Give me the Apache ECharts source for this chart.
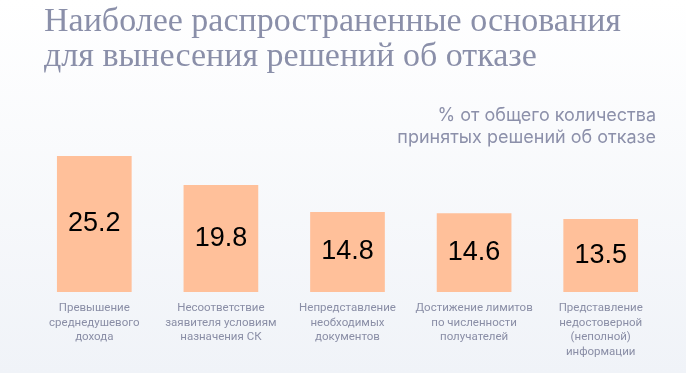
<!DOCTYPE html>
<html>
<head>
<meta charset="utf-8">
<script src="https://cdn.jsdelivr.net/npm/echarts@6/dist/echarts.min.js"></script>
<style>
html,body{margin:0;padding:0;}
#c{width:686px;height:373px;background:linear-gradient(to bottom,#ffffff 0%,#f0f3f8 100%);}
</style>
</head>
<body>
<div id="c"></div>
<script>
const titleText = 'Наиболее распространенные основания\nдля вынесения решений об отказе';
const subtitleLines = ['% от общего количества', 'принятых решений об отказе'];
const categories = [
  'Превышение\nсреднедушевого\nдохода',
  'Несоответствие\nзаявителя условиям\nназначения СК',
  'Непредставление\nнеобходимых\nдокументов',
  'Достижение лимитов\nпо численности\nполучателей',
  'Представление\nнедостоверной\n(неполной)\nинформации'
];
const values = [25.2, 19.8, 14.8, 14.6, 13.5];

const chart = echarts.init(document.getElementById('c'), null, {renderer: 'canvas'});
chart.setOption({
  backgroundColor: 'transparent',
  title: [{
    text: titleText,
    left: 39, top: 0,
    textStyle: {fontFamily: "'Liberation Serif', 'DejaVu Serif', serif", fontWeight: 'normal', fontSize: 34, lineHeight: 35, color: '#8a8fa9'}
  }],
  graphic: subtitleLines.map((t, i) => ({
    type: 'text',
    x: 656, y: 107 + i * 22,
    style: {
      text: t,
      align: 'right',
      verticalAlign: 'top',
      fontFamily: "Inter, Roboto, sans-serif",
      fontSize: 18,
      fill: '#8c90aa'
    }
  })),
  grid: {left: 31, right: 22, top: 130, bottom: 81},
  xAxis: {
    type: 'category',
    data: categories,
    axisLine: {show: false},
    axisTick: {show: false},
    axisLabel: {margin: 9, fontFamily: 'Roboto', fontSize: 11.5, lineHeight: 14.5, color: '#8a8ea6', interval: 0, verticalAlign: 'top'}
  },
  yAxis: {type: 'value', min: 0, max: 30, show: false, splitLine: {show: false}},
  series: [{
    type: 'bar',
    data: values,
    barWidth: '59%',
    itemStyle: {color: '#ffc09a'},
    label: {show: true, position: 'inside', color: '#000', fontFamily: "'Liberation Sans', Arial, sans-serif", fontSize: 27, formatter: p => p.value.toFixed(1)}
  }]
});
</script>
</body>
</html>
